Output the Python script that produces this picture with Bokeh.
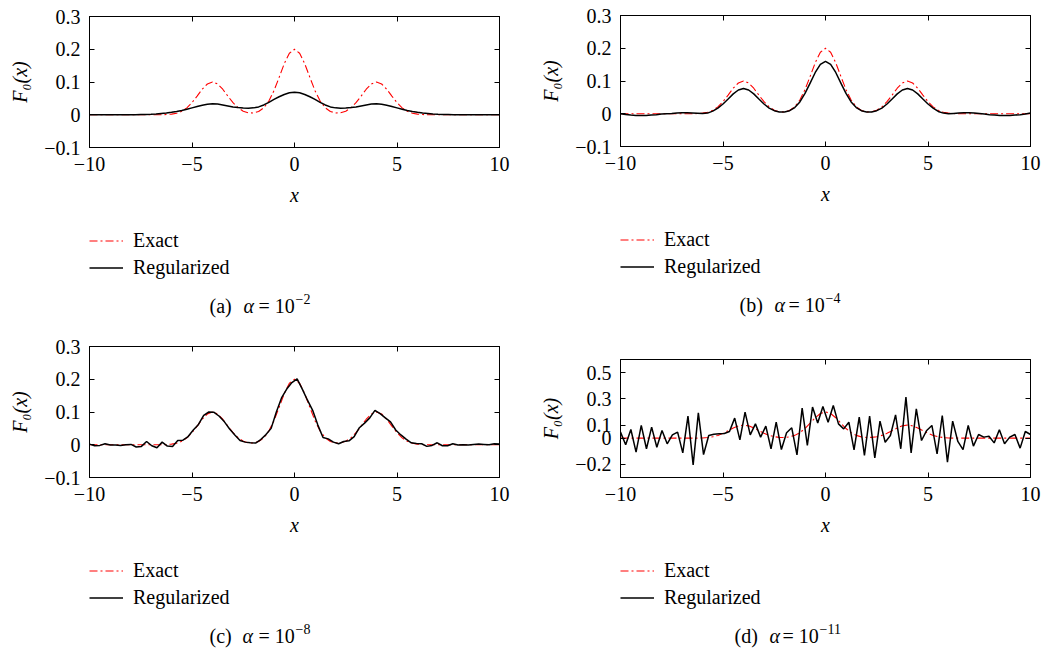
from bokeh.plotting import figure
from bokeh.layouts import column, row
from bokeh.models import FixedTicker, LinearAxis, Legend, LegendItem, Label, Range1d
from bokeh.embed import file_html
from bokeh.resources import INLINE

FONT = "Liberation Serif"
FS = "20px"

# ---------------- data ----------------
x_fine = [-10.0, -9.75, -9.5, -9.25, -9.0, -8.75, -8.5, -8.25, -8.0, -7.75,
          -7.5, -7.25, -7.0, -6.75, -6.5, -6.25, -6.0, -5.75, -5.5, -5.25,
          -5.0, -4.75, -4.5, -4.25, -4.0, -3.75, -3.5, -3.25, -3.0, -2.75,
          -2.5, -2.25, -2.0, -1.75, -1.5, -1.25, -1.0, -0.75, -0.5, -0.25,
          0.0,
          0.25, 0.5, 0.75, 1.0, 1.25, 1.5, 1.75, 2.0, 2.25, 2.5,
          2.75, 3.0, 3.25, 3.5, 3.75, 4.0, 4.25, 4.5, 4.75, 5.0,
          5.25, 5.5, 5.75, 6.0, 6.25, 6.5, 6.75, 7.0, 7.25, 7.5,
          7.75, 8.0, 8.25, 8.5, 8.75, 9.0, 9.25, 9.5, 9.75, 10.0]

x_samp = [-10.0, -9.747, -9.494, -9.241, -8.987, -8.734, -8.481, -8.228, -7.975, -7.722,
          -7.468, -7.215, -6.962, -6.709, -6.456, -6.203, -5.949, -5.696, -5.443, -5.19,
          -4.937, -4.684, -4.43, -4.177, -3.924, -3.671, -3.418, -3.165, -2.911, -2.658,
          -2.405, -2.152, -1.899, -1.646, -1.392, -1.139, -0.886, -0.633, -0.38, -0.127,
          0.127, 0.38, 0.633, 0.886, 1.139, 1.392, 1.646, 1.899, 2.152, 2.405,
          2.658, 2.911, 3.165, 3.418, 3.671, 3.924, 4.177, 4.43, 4.684, 4.937,
          5.19, 5.443, 5.696, 5.949, 6.203, 6.456, 6.709, 6.962, 7.215, 7.468,
          7.722, 7.975, 8.228, 8.481, 8.734, 8.987, 9.241, 9.494, 9.747, 10.0]

exact = [0, 0, 0, 0, 0, 0, 0, 0, 0, 0, 0, 0, 0,
         0.0001, 0.0002, 0.0006, 0.0018, 0.0047, 0.0105, 0.0210, 0.0368, 0.0570, 0.0779,
         0.0939, 0.1000, 0.0939, 0.0779, 0.0570, 0.0368, 0.0211, 0.0109, 0.0060, 0.0055,
         0.0100, 0.0213, 0.0420, 0.0736, 0.1140, 0.1558, 0.1879,
         0.2000,
         0.1879, 0.1558, 0.1140, 0.0736, 0.0420, 0.0213, 0.0100, 0.0055, 0.0060, 0.0109,
         0.0211, 0.0368, 0.0570, 0.0779, 0.0939, 0.1000, 0.0939, 0.0779, 0.0570, 0.0368,
         0.0210, 0.0105, 0.0047, 0.0018, 0.0006, 0.0002, 0.0001,
         0, 0, 0, 0, 0, 0, 0, 0, 0, 0, 0, 0, 0]

reg_a = [0, 0, 0, 0, 0, 0, 0, 0, 0, 0,
         0.0005, 0.001, 0.0015, 0.0025, 0.004, 0.0055, 0.0075, 0.010, 0.013, 0.017,
         0.021, 0.025, 0.029, 0.032, 0.0335, 0.0325, 0.030, 0.027, 0.024, 0.022,
         0.0205, 0.020, 0.021, 0.024, 0.030, 0.038, 0.047, 0.055, 0.062, 0.067,
         0.069,
         0.067, 0.062, 0.055, 0.047, 0.038, 0.030, 0.024, 0.021, 0.020, 0.0205,
         0.022, 0.024, 0.027, 0.030, 0.0325, 0.0335, 0.032, 0.029, 0.025, 0.021,
         0.017, 0.013, 0.010, 0.0075, 0.0055, 0.004, 0.0025, 0.0015, 0.001, 0.0005,
         0, 0, 0, 0, 0, 0, 0, 0, 0, 0]

reg_b = [0.0, -0.002, -0.004, -0.005, -0.0055, -0.005, -0.004, -0.003, -0.001, 0.0,
         0.001, 0.0025, 0.003, 0.003, 0.0025, 0.0015, 0.0005, 0.002, 0.008, 0.0174,
         0.0297, 0.0451, 0.0607, 0.0725, 0.077, 0.0725, 0.0607, 0.0451, 0.0297, 0.0174,
         0.0094, 0.0055, 0.0052, 0.0093, 0.019, 0.036, 0.062, 0.0936, 0.1261, 0.1507,
         0.160,
         0.1507, 0.1261, 0.0936, 0.062, 0.036, 0.019, 0.0093, 0.0052, 0.0055, 0.0094,
         0.0174, 0.0297, 0.0451, 0.0607, 0.0725, 0.077, 0.0725, 0.0607, 0.0451, 0.0297,
         0.0174, 0.007, 0.002, 0.0, 0.001, 0.002, 0.003, 0.003, 0.0025, 0.001,
         -0.001, -0.003, -0.004, -0.005, -0.005, -0.005, -0.004, -0.003, -0.001, 0.002]

reg_c = [0.002, -0.003, -0.002, 0.003, -0.001, -0.001, -0.002, 0.000, 0.001, -0.007,
         -0.005, 0.010, -0.003, -0.009, 0.008, -0.004, -0.005, 0.013, 0.014, 0.025,
         0.045, 0.062, 0.090, 0.100, 0.099, 0.087, 0.070, 0.048, 0.030, 0.013,
         0.008, 0.006, 0.005, 0.016, 0.031, 0.050, 0.100, 0.143, 0.170, 0.190,
         0.201, 0.170, 0.136, 0.105, 0.060, 0.022, 0.018, 0.008, 0.003, 0.010,
         0.012, 0.025, 0.052, 0.066, 0.082, 0.105, 0.095, 0.082, 0.070, 0.045,
         0.030, 0.017, 0.006, 0.004, 0.003, -0.005, -0.002, 0.006, -0.003, -0.003,
         0.003, -0.001, 0.000, -0.001, 0.001, 0.002, 0.001, 0.000, 0.003, 0.002]

reg_d = [0.046, -0.050, 0.066, -0.107, 0.097, -0.081, 0.084, -0.069, 0.059, -0.043,
         0.025, 0.046, -0.112, 0.168, -0.204, 0.193, -0.125, 0.020, 0.030, 0.033,
         0.036, 0.051, 0.153, -0.013, 0.198, 0.025, 0.109, 0.008, 0.092, -0.081,
         0.122, -0.087, 0.041, 0.079, -0.127, 0.229, -0.056, 0.237, 0.115, 0.242,
         0.122, 0.249, 0.109, 0.071, 0.122, -0.089, 0.160, -0.132, 0.168, -0.150,
         0.130, -0.031, 0.020, 0.178, -0.081, 0.313, -0.112, 0.224, -0.018, 0.059,
         0.097, -0.120, 0.173, -0.183, 0.130, -0.025, -0.087, 0.097, -0.061, 0.028,
         0.008, 0.015, -0.036, 0.064, -0.043, 0.008, 0.028, -0.076, 0.051, 0.028]

x_ticks = [-10, -5, 0, 5, 10]
x_tick_labels = ["\u221210", "\u22125", "0", "5", "10"]
y_ticks_std = [-0.1, 0, 0.1, 0.2, 0.3]
y_tick_labels_std = ["\u22120.1", "0", "0.1", "0.2", "0.3"]
y_ticks_d = [-0.2, 0, 0.1, 0.3, 0.5]
y_tick_labels_d = ["\u22120.2", "0", "0.1", "0.3", "0.5"]

legend_labels = ["Exact", "Regularized"]
cap_letters = ["(a)", "(b)", "(c)", "(d)"]
cap_powers = ["\u22122", "\u22124", "\u22128", "\u221211"]

assert len(exact) == len(x_fine) == len(reg_a) == len(reg_b) == 81
assert len(reg_c) == len(reg_d) == len(x_samp) == 80

RED = "#ff0000"
RED_DASH = "8 3 2 3"
RED_W = 1.1
BLACK_W = 1.5
BOTTOM = 70          # space under each plot frame for the x axis
CELL_H = 325


def style_axis(ax):
    ax.major_tick_in = 5
    ax.major_tick_out = 0
    ax.minor_tick_line_color = None
    ax.axis_line_color = "black"
    ax.axis_line_width = 1
    ax.major_tick_line_color = "black"
    ax.major_label_text_font = FONT
    ax.major_label_text_font_size = FS
    ax.major_label_text_color = "black"


def plot_panel(xs_r, ys_r, y_lo, y_hi, yt, ytl, frame):
    left, top, fw, fh, cell_w = frame
    p = figure(frame_width=fw, frame_height=fh,
               min_border_left=left, min_border_top=top,
               min_border_right=cell_w - left - fw, min_border_bottom=BOTTOM,
               x_range=Range1d(-10, 10), y_range=Range1d(y_lo, y_hi),
               output_backend="svg", toolbar_location=None, tools="")
    p.background_fill_color = "white"
    p.border_fill_color = "white"
    p.outline_line_color = "black"
    p.outline_line_alpha = 1
    p.outline_line_width = 1
    p.xgrid.visible = False
    p.ygrid.visible = False

    p.xaxis.ticker = FixedTicker(ticks=x_ticks)
    p.xaxis.major_label_overrides = {float(t): s for t, s in zip(x_ticks, x_tick_labels)}
    p.yaxis.ticker = FixedTicker(ticks=yt)
    p.yaxis.major_label_overrides = {float(t): s for t, s in zip(yt, ytl)}
    for ax in p.xaxis + p.yaxis:
        style_axis(ax)
        ax.axis_label_text_font = FONT
        ax.axis_label_text_font_size = FS
        ax.axis_label_text_font_style = "italic"
        ax.axis_label_text_color = "black"
    p.xaxis.axis_label = "x"
    p.xaxis.major_label_standoff = 9
    p.xaxis.axis_label_standoff = 10
    p.yaxis.axis_label = "F\u2080(x)"
    p.yaxis.major_label_standoff = 9
    p.yaxis.axis_label_standoff = 10

    ax_top = LinearAxis(ticker=FixedTicker(ticks=x_ticks))
    ax_right = LinearAxis(ticker=FixedTicker(ticks=yt))
    for ax in (ax_top, ax_right):
        style_axis(ax)
        ax.major_label_text_color = None
        ax.major_label_standoff = 0
    p.add_layout(ax_top, "above")
    p.add_layout(ax_right, "right")

    p.line(x_fine, exact, line_color=RED, line_width=RED_W, line_dash=RED_DASH)
    p.line(xs_r, ys_r, line_color="black", line_width=BLACK_W)
    return p


def legend_panel(idx, frame, cap_off, xs_r, ys_r):
    left, top, fw, fh, cell_w = frame
    h = CELL_H - top - fh - BOTTOM
    q = figure(frame_width=fw, frame_height=h,
               min_border_left=left, min_border_right=cell_w - left - fw,
               min_border_top=0, min_border_bottom=0,
               x_range=Range1d(0, fw), y_range=Range1d(0, h),
               output_backend="svg", toolbar_location=None, tools="")
    q.axis.visible = False
    q.grid.visible = False
    q.outline_line_color = None
    q.background_fill_color = "white"
    q.border_fill_color = "white"
    # legend-only renderers (one data point each, outside this panel's range)
    r1 = q.line(x_fine[:1], exact[:1], line_color=RED, line_width=RED_W, line_dash=RED_DASH)
    r2 = q.line(xs_r[:1], ys_r[:1], line_color="black", line_width=BLACK_W)
    first_c = 93 - BOTTOM
    legend = Legend(items=[LegendItem(label=legend_labels[0], renderers=[r1]),
                           LegendItem(label=legend_labels[1], renderers=[r2])],
                    location=(0, h - (first_c - 13.5) - 54), orientation="vertical",
                    padding=0, margin=0, spacing=0,
                    glyph_width=34, glyph_height=27, label_height=27, label_standoff=10,
                    border_line_color=None, background_fill_alpha=0,
                    label_text_font=FONT, label_text_font_size=FS, label_text_color="black")
    q.add_layout(legend)

    y_cap = h - (158 - BOTTOM)
    y_sup = y_cap + 7
    common = dict(x_units="data", y_units="data", text_font=FONT, text_color="black",
                  text_baseline="middle", text_align="left")
    o_letter, o_alpha, o_eq, o_sup = cap_off
    q.add_layout(Label(x=o_letter, y=y_cap, text=cap_letters[idx], text_font_size=FS, **common))
    q.add_layout(Label(x=o_alpha, y=y_cap, text="\u03b1", text_font_size=FS,
                       text_font_style="italic", **common))
    q.add_layout(Label(x=o_eq, y=y_cap, text="= 10", text_font_size=FS, **common))
    q.add_layout(Label(x=o_sup, y=y_sup, text=cap_powers[idx], text_font_size="14px", **common))
    return q


frames = [(89, 16, 410, 131, 525), (95, 15, 410, 131, 524),
          (89, 21, 410, 131, 525), (95, 34, 410, 118, 524)]
cap_offsets = [(120, 154, 169, 206), (119, 154, 168, 205),
               (120, 153, 169, 206), (114, 149, 162, 199)]
reg_x = [x_fine, x_fine, x_samp, x_samp]
reg_y = [reg_a, reg_b, reg_c, reg_d]

pa = plot_panel(x_fine, reg_a, -0.1, 0.3, y_ticks_std, y_tick_labels_std, frames[0])
pb = plot_panel(x_fine, reg_b, -0.1, 0.3, y_ticks_std, y_tick_labels_std, frames[1])
pc = plot_panel(x_samp, reg_c, -0.1, 0.3, y_ticks_std, y_tick_labels_std, frames[2])
pd = plot_panel(x_samp, reg_d, -0.3, 0.6, y_ticks_d, y_tick_labels_d, frames[3])
la, lb, lc, ld = [legend_panel(i, frames[i], cap_offsets[i], reg_x[i], reg_y[i]) for i in range(4)]

layout = row(column(pa, la, pc, lc, spacing=0), column(pb, lb, pd, ld, spacing=0), spacing=0)
open("out.html", "w").write(file_html(layout, INLINE))
